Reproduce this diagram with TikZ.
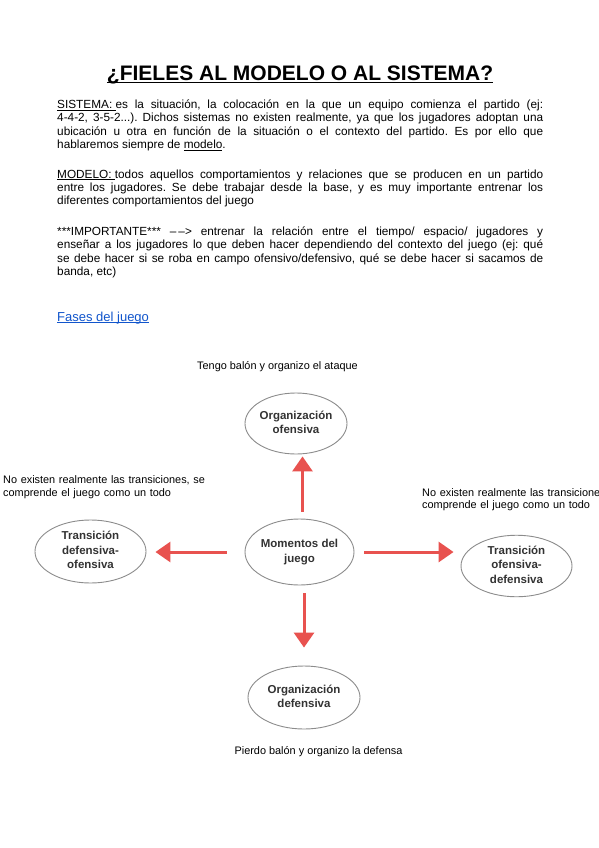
\documentclass[tikz,border=0pt]{standalone}
\usepackage{fontspec}
\setmainfont{Liberation Sans}
\usetikzlibrary{shapes.geometric,arrows.meta}
\definecolor{arrowred}{HTML}{E8524F}
\definecolor{ellgray}{HTML}{8C8C8C}
\definecolor{lbl}{HTML}{333333}
\definecolor{linkblue}{HTML}{1155CC}
\newcommand\myul[1]{\setbox0\hbox{#1}\rlap{\rule[-1.8pt]{\wd0}{0.7pt}}\box0}
\newcommand\ellines[1]{\makebox[0pt]{\begin{tabular}{@{}c@{}}#1\end{tabular}}}
\tikzset{
  momento/.style={ellipse, draw=ellgray, line width=0.9pt, inner sep=0pt, text=lbl,
    font=\bfseries\fontsize{11.5}{14.5}\selectfont},
  para/.style={anchor=base west, text width=486pt, align=justify, inner sep=0pt,
    font=\fontsize{11.8}{13.3}\selectfont\frenchspacing},
  note/.style={inner sep=0pt, font=\fontsize{10.9}{13}\selectfont},
  arr/.style={draw=arrowred, line width=3pt, -{Triangle[width=20pt,length=15pt]}},
}
\begin{document}
\begin{tikzpicture}[x=1pt,y=-1pt]
\useasboundingbox (0,0) rectangle (599,848);
\fill[white] (0,0) rectangle (599,848);
% title
\node[anchor=base, inner sep=0pt, font=\bfseries\fontsize{21}{25}\selectfont] (title) at (300,81)
  {\myul{¿FIELES AL MODELO O AL SISTEMA?}};
% paragraphs
\node[para] (p1) at (57,108.5) {\myul{SISTEMA:\ }es la situación, la colocación en la que un equipo comienza el partido (ej: \linebreak 4-4-2, 3-5-2...). Dichos sistemas no existen realmente, ya que los jugadores adoptan una \linebreak ubicación u otra en función de la situación o el contexto del partido. Es por ello que \linebreak hablaremos siempre de \myul{modelo}.};
\node[para] (p2) at (57,178) {\myul{MODELO:\ }todos aquellos comportamientos y relaciones que se producen en un partido \linebreak entre los jugadores. Se debe trabajar desde la base, y es muy importante entrenar los \linebreak diferentes comportamientos del juego};
\node[para] (p3) at (57,235.5) {***IMPORTANTE*** –\,–> entrenar la relación entre el tiempo/ espacio/ jugadores y \linebreak enseñar a los jugadores lo que deben hacer dependiendo del contexto del juego (ej: qué \linebreak se debe hacer si se roba en campo ofensivo/defensivo, qué se debe hacer si sacamos de \linebreak banda, etc)};
\node[anchor=base west, inner sep=0pt, text=linkblue, font=\fontsize{13}{15}\selectfont] (fases) at (57,321)
  {\myul{Fases del juego}};
% diagram notes
\node[note, anchor=base] (ntop) at (277.5,369) {Tengo balón y organizo el ataque};
\node[note, anchor=base] (nbot) at (318.5,754) {Pierdo balón y organizo la defensa};
\node[note, anchor=base west, text width=240pt, align=left] (nleft) at (3,483.5)
  {No existen realmente las transiciones, se\\comprende el juego como un todo};
\begin{scope}
\clip (0,0) rectangle (599,848);
\node[note, anchor=base west, text width=240pt, align=left, font=\fontsize{10.9}{11.8}\selectfont] (nright) at (422,496.5)
  {No existen realmente las transiciones, se\\comprende el juego como un todo};
\end{scope}
% ellipses
\node[momento, minimum width=102pt, minimum height=61pt] (ofe) at (296,423.5)
  {\ellines{Organización\\ofensiva}};
\node[momento, minimum width=109pt, minimum height=66pt] (mom) at (299.5,552)
  {\ellines{Momentos del\\juego}};
\node[momento, minimum width=111pt, minimum height=63pt] (tdo) at (90.5,551.5)
  {\ellines{Transición\\defensiva-\\ofensiva}};
\node[momento, minimum width=111pt, minimum height=56pt] (tod) at (516.5,566)
  {\ellines{Transición\\ofensiva-\\defensiva}};
\node[momento, minimum width=112pt, minimum height=63pt] (def) at (304,697.5)
  {\ellines{Organización\\defensiva}};
% arrows
\draw[arr, shorten <=7pt, shorten >=2pt] ([xshift=3pt]mom.north) -- ([xshift=3pt]mom.north |- ofe.south);
\draw[arr, shorten <=8pt, shorten >=18pt] ([xshift=4.5pt]mom.south) -- ([xshift=4.5pt]mom.south |- def.north);
\draw[arr, shorten <=18pt, shorten >=9pt] (mom.west) -- (mom.west -| tdo.east);
\draw[arr, shorten <=10pt, shorten >=7pt] (mom.east) -- (mom.east -| tod.west);
\end{tikzpicture}
\end{document}
